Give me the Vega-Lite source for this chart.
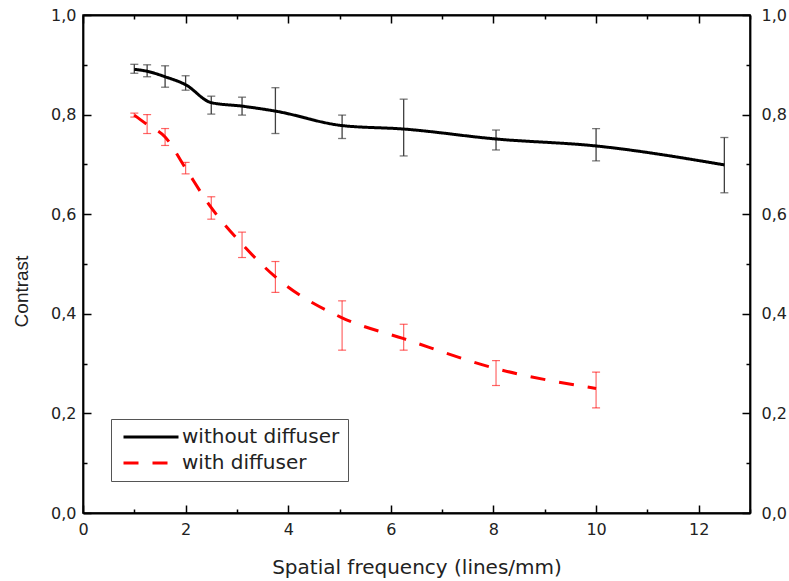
{
  "$schema": "https://vega.github.io/schema/vega-lite/v6.json",
  "autosize": "none",
  "width": 667,
  "height": 498,
  "padding": {"left": 83, "top": 15, "right": 39, "bottom": 68},
  "background": "white",
  "config": {
    "view": {"stroke": "black", "strokeWidth": 1.5},
    "font": "DejaVu Sans",
    "axis": {
      "domainColor": "black",
      "domainWidth": 1.8,
      "tickColor": "black",
      "tickWidth": 1.5,
      "grid": false,
      "labelFont": "DejaVu Sans",
      "labelFontSize": 16,
      "labelColor": "#222",
      "titleFont": "DejaVu Sans",
      "titleFontWeight": "normal",
      "titleColor": "#222"
    },
    "legend": {
      "title": null,
      "symbolType": "M-1,0H9",
      "symbolSize": 121,
      "symbolStrokeWidth": 3,
      "labelFont": "DejaVu Sans",
      "labelFontSize": 20,
      "labelColor": "#222",
      "labelOffset": 43,
      "rowPadding": 6,
      "padding": 8,
      "strokeColor": "#555",
      "fillColor": "white"
    }
  },
  "datasets": {
    "pts": [
      {"series": "without diffuser", "f": 1.0, "c": 0.891, "lo": 0.883, "hi": 0.901},
      {"series": "without diffuser", "f": 1.25, "c": 0.887, "lo": 0.876, "hi": 0.900},
      {"series": "without diffuser", "f": 1.6, "c": 0.876, "lo": 0.855, "hi": 0.898},
      {"series": "without diffuser", "f": 2.0, "c": 0.86, "lo": 0.849, "hi": 0.878},
      {"series": "without diffuser", "f": 2.5, "c": 0.824, "lo": 0.801, "hi": 0.837},
      {"series": "without diffuser", "f": 3.1, "c": 0.817, "lo": 0.799, "hi": 0.835},
      {"series": "without diffuser", "f": 3.75, "c": 0.807, "lo": 0.762, "hi": 0.854},
      {"series": "without diffuser", "f": 5.05, "c": 0.778, "lo": 0.752, "hi": 0.799},
      {"series": "without diffuser", "f": 6.25, "c": 0.771, "lo": 0.717, "hi": 0.831},
      {"series": "without diffuser", "f": 8.05, "c": 0.751, "lo": 0.729, "hi": 0.769},
      {"series": "without diffuser", "f": 10.0, "c": 0.737, "lo": 0.707, "hi": 0.772},
      {"series": "without diffuser", "f": 12.5, "c": 0.699, "lo": 0.643, "hi": 0.754},
      {"series": "with diffuser", "f": 1.0, "c": 0.799, "lo": 0.795, "hi": 0.803},
      {"series": "with diffuser", "f": 1.25, "c": 0.78, "lo": 0.762, "hi": 0.800},
      {"series": "with diffuser", "f": 1.6, "c": 0.755, "lo": 0.738, "hi": 0.772},
      {"series": "with diffuser", "f": 2.0, "c": 0.692, "lo": 0.681, "hi": 0.704},
      {"series": "with diffuser", "f": 2.5, "c": 0.613, "lo": 0.590, "hi": 0.635},
      {"series": "with diffuser", "f": 3.1, "c": 0.54, "lo": 0.513, "hi": 0.564},
      {"series": "with diffuser", "f": 3.75, "c": 0.474, "lo": 0.443, "hi": 0.505},
      {"series": "with diffuser", "f": 5.05, "c": 0.392, "lo": 0.327, "hi": 0.426},
      {"series": "with diffuser", "f": 6.25, "c": 0.35, "lo": 0.327, "hi": 0.379},
      {"series": "with diffuser", "f": 8.05, "c": 0.29, "lo": 0.256, "hi": 0.306},
      {"series": "with diffuser", "f": 10.0, "c": 0.25, "lo": 0.211, "hi": 0.283}
    ]
  },
  "data": {"name": "pts"},
  "resolve": {"axis": {"x": "independent", "y": "independent"}},
  "layer": [
    {
      "transform": [{"filter": "datum.series === 'without diffuser'"}],
      "mark": {"type": "errorbar", "ticks": true, "size": 8, "thickness": 1.3, "color": "#404040"},
      "encoding": {
        "x": {
          "field": "f", "type": "quantitative",
          "scale": {"domain": [0, 13], "nice": false, "zero": false},
          "axis": {
            "orient": "bottom",
            "title": "Spatial frequency (lines/mm)",
            "titleFontSize": 20,
            "titlePadding": 20,
            "values": [0, 1, 2, 3, 4, 5, 6, 7, 8, 9, 10, 11, 12, 13],
            "labelExpr": "datum.value % 2 == 0 ? datum.value : ''",
            "tickSize": {"condition": {"test": "datum.value % 2 == 0", "value": -8}, "value": -4},
            "labelPadding": 16,
            "labelFlush": false
          }
        },
        "y": {
          "field": "lo", "type": "quantitative",
          "scale": {"domain": [0, 1], "nice": false, "zero": false},
          "axis": {
            "orient": "left",
            "title": "Contrast",
            "titleFont": "Liberation Sans",
            "titleFontSize": 19,
            "titleX": -62,
            "titleY": 276,
            "titleAngle": -90,
            "titleAlign": "center",
            "titleBaseline": "middle",
            "values": [0, 0.1, 0.2, 0.3, 0.4, 0.5, 0.6, 0.7, 0.8, 0.9, 1],
            "labelExpr": "round(datum.value * 10) % 2 == 0 ? replace(format(datum.value, '.1f'), '.', ',') : ''",
            "tickSize": {"condition": {"test": "round(datum.value * 10) % 2 == 0", "value": -8}, "value": -4},
            "labelPadding": 15,
            "labelFlush": false
          }
        },
        "y2": {"field": "hi"}
      }
    },
    {
      "transform": [{"filter": "datum.series === 'with diffuser'"}],
      "mark": {"type": "errorbar", "ticks": true, "size": 8, "thickness": 1.2, "color": "#ff0000", "opacity": 0.6},
      "encoding": {
        "x": {
          "field": "f", "type": "quantitative",
          "scale": {"domain": [0, 13], "nice": false, "zero": false},
          "axis": {
            "orient": "top",
            "title": null,
            "values": [0, 1, 2, 3, 4, 5, 6, 7, 8, 9, 10, 11, 12, 13],
            "labels": false,
            "tickSize": {"condition": {"test": "datum.value % 2 == 0", "value": -8}, "value": -4}
          }
        },
        "y": {
          "field": "lo", "type": "quantitative",
          "scale": {"domain": [0, 1], "nice": false, "zero": false},
          "axis": {
            "orient": "right",
            "title": null,
            "values": [0, 0.1, 0.2, 0.3, 0.4, 0.5, 0.6, 0.7, 0.8, 0.9, 1],
            "labelExpr": "round(datum.value * 10) % 2 == 0 ? replace(format(datum.value, '.1f'), '.', ',') : ''",
            "tickSize": {"condition": {"test": "round(datum.value * 10) % 2 == 0", "value": -8}, "value": -4},
            "labelPadding": 19,
            "labelFlush": false
          }
        },
        "y2": {"field": "hi"}
      }
    },
    {
      "mark": {"type": "line", "interpolate": "monotone", "strokeWidth": 3},
      "encoding": {
        "x": {"field": "f", "type": "quantitative", "scale": {"domain": [0, 13], "nice": false, "zero": false}, "axis": null},
        "y": {"field": "c", "type": "quantitative", "scale": {"domain": [0, 1], "nice": false, "zero": false}, "axis": null},
        "color": {
          "field": "series", "type": "nominal",
          "scale": {"domain": ["without diffuser", "with diffuser"], "range": ["#000000", "#ff0000"]},
          "legend": {"orient": "none", "legendX": 28, "legendY": 404}
        },
        "strokeDash": {
          "field": "series", "type": "nominal",
          "scale": {"domain": ["without diffuser", "with diffuser"], "range": [[1, 0], [15, 14]]},
          "legend": {"orient": "none", "legendX": 28, "legendY": 404}
        }
      }
    }
  ]
}
